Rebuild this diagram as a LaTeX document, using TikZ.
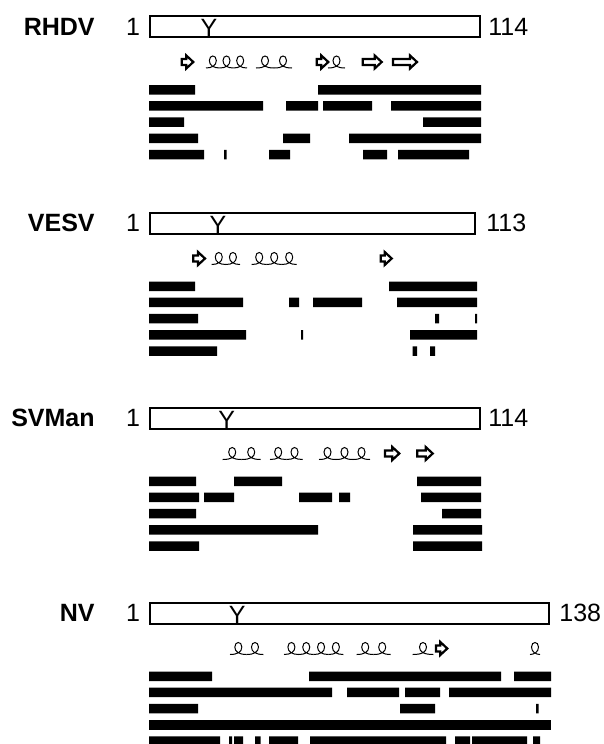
\documentclass[tikz,border=0pt]{standalone}
\usepackage{fontspec}
\setmainfont{Liberation Sans}
\usepackage{tikz}
\usetikzlibrary{positioning}
\tikzset{
  virus/.style={font=\bfseries\fontsize{12.5}{15}\selectfont, inner sep=0pt, anchor=base east},
  resnum/.style={font=\fontsize{12.5}{15}\selectfont, inner sep=0pt},
  protbox/.style={draw, line width=1pt},
  seg/.style={fill=black},
  sheet/.style={draw, fill=white, line width=1.1pt},
  helixline/.style={line width=0.5pt},
  pics/strand/.style={code={
    \draw[sheet] (0,-3) -- (#1-7,-3) -- (#1-7,-6.5) -- (#1,0) -- (#1-7,6.5) -- (#1-7,3) -- (0,3) -- cycle;
  }},
  pics/helix/.style 2 args={code={
    \pgfmathsetmacro\looppitch{#1/#2}
    \foreach \k in {1,...,#2}{
      \pgfmathsetmacro\loopx{(\k-0.5)*\looppitch}
      \draw[helixline] ({\loopx-\looppitch/2},6) .. controls ({\loopx-1},6) and ({\loopx+3.5},3.5) .. ({\loopx+3.5},-1.5)
        .. controls ({\loopx+3.5},-7.5) and ({\loopx-3.5},-7.5) .. ({\loopx-3.5},-1.5)
        .. controls ({\loopx-3.5},3.5) and ({\loopx+1},6) .. ({\loopx+\looppitch/2},6);
    }
  }},
}

\begin{document}
\begin{tikzpicture}[x=0.5pt, y=-0.5pt]

\useasboundingbox (0,0) rectangle (604,744);
\clip (0,0) rectangle (604,744);

% RHDV
\begin{scope}[shift={(0,15)}]
\draw[protbox] (150,1) rectangle (480,22);
\node[virus] (rhdv) at (95,20) {RHDV};
\node[resnum, anchor=base] (rhdv-first) at (133,20) {1};
\node[resnum, anchor=base west] (rhdv-last) at (488,20) {114};
\node[resnum, anchor=base] (rhdv-tyr) at (209,21.5) {Y};

% secondary structure
\pic at (181.7,47) {strand=11.6};
\pic at (206,47) {helix={41}{3}};
\pic at (256,47) {helix={36}{2}};
\pic at (316.7,47) {strand=11.6};
\pic at (328,47) {helix={17}{1}};
\pic at (362.7,47) {strand=19};
\pic at (393,47) {strand=24};

% segments
\fill[seg] (149,70) rectangle (195,79.5) (318,70) rectangle (481,79.5);
\fill[seg] (149,86.2) rectangle (263,95.7) (286,86.2) rectangle (318,95.7)
  (323,86.2) rectangle (372,95.7) (391,86.2) rectangle (481,95.7);
\fill[seg] (149,102.4) rectangle (184,111.9) (423,102.4) rectangle (481,111.9);
\fill[seg] (149,118.6) rectangle (198,128.1) (283,118.6) rectangle (310,128.1)
  (349,118.6) rectangle (481,128.1);
\fill[seg] (149,134.8) rectangle (204,144.3) (224,134.8) rectangle (226.5,144.3)
  (269,134.8) rectangle (290,144.3) (363,134.8) rectangle (387,144.3)
  (398,134.8) rectangle (469,144.3);
\end{scope}

% VESV
\begin{scope}[shift={(0,211.5)}]
\draw[protbox] (150,1) rectangle (475,22);
\node[virus] (vesv) at (95,20) {VESV};
\node[resnum, anchor=base] (vesv-first) at (133,20) {1};
\node[resnum, anchor=base west] (vesv-last) at (486,20) {113};
\node[resnum, anchor=base] (vesv-tyr) at (218,21.5) {Y};

% secondary structure
\pic at (193.3,47) {strand=11.7};
\pic at (211.7,47) {helix={28.3}{2}};
\pic at (251.7,47) {helix={45}{3}};
\pic at (380.7,47) {strand=11};

% segments
\fill[seg] (149,70) rectangle (195,79.5) (389,70) rectangle (477,79.5);
\fill[seg] (149,86.2) rectangle (243,95.7) (289,86.2) rectangle (299,95.7)
  (313,86.2) rectangle (362,95.7) (397,86.2) rectangle (477,95.7);
\fill[seg] (149,102.4) rectangle (198,111.9) (435,102.4) rectangle (439,111.9)
  (475,102.4) rectangle (477,111.9);
\fill[seg] (149,118.6) rectangle (246,128.1) (301,118.6) rectangle (303,128.1)
  (410,118.6) rectangle (477,128.1);
\fill[seg] (149,134.8) rectangle (217,144.3) (412.5,134.8) rectangle (417,144.3)
  (430,134.8) rectangle (435,144.3);
\end{scope}

% SVMan
\begin{scope}[shift={(0,406.5)}]
\draw[protbox] (150,1) rectangle (480,22);
\node[virus] (svman) at (95,20) {SVMan};
\node[resnum, anchor=base] (svman-first) at (133,20) {1};
\node[resnum, anchor=base west] (svman-last) at (488,20) {114};
\node[resnum, anchor=base] (svman-tyr) at (226.7,21.5) {Y};

% secondary structure
\pic at (222.7,47) {helix={38}{2}};
\pic at (270,47) {helix={32.7}{2}};
\pic at (319,47) {helix={51}{3}};
\pic at (385,47) {strand=14.3};
\pic at (417.3,47) {strand=15.4};

% segments
\fill[seg] (149,70) rectangle (196,79.5) (234,70) rectangle (282,79.5)
  (417,70) rectangle (481,79.5);
\fill[seg] (149,86.2) rectangle (199,95.7) (204,86.2) rectangle (234,95.7)
  (299,86.2) rectangle (332,95.7) (339,86.2) rectangle (350,95.7)
  (421,86.2) rectangle (481,95.7);
\fill[seg] (149,102.4) rectangle (196,111.9) (442,102.4) rectangle (481,111.9);
\fill[seg] (149,118.6) rectangle (318,128.1) (413,118.6) rectangle (482,128.1);
\fill[seg] (149,134.8) rectangle (199,144.3) (413,134.8) rectangle (482,144.3);
\end{scope}

% NV
\begin{scope}[shift={(0,601.5)}]
\draw[protbox] (150,1) rectangle (549,22);
\node[virus] (nv) at (95,20) {NV};
\node[resnum, anchor=base] (nv-first) at (133,20) {1};
\node[resnum, anchor=base west] (nv-last) at (559,20) {138};
\node[resnum, anchor=base] (nv-tyr) at (237.3,21.5) {Y};

% secondary structure
\pic at (230,47) {helix={33.3}{2}};
\pic at (284,47) {helix={59.3}{4}};
\pic at (356.7,47) {helix={34}{2}};
\pic at (412.7,47) {helix={20.6}{1}};
\pic at (436,47) {strand=11.3};
\pic at (530,47) {helix={10}{1}};

% segments
\fill[seg] (149,70) rectangle (212,79.5) (309,70) rectangle (501,79.5)
  (514,70) rectangle (551,79.5);
\fill[seg] (149,86.2) rectangle (332,95.7) (347,86.2) rectangle (399,95.7)
  (405,86.2) rectangle (440,95.7) (449,86.2) rectangle (551,95.7);
\fill[seg] (149,102.4) rectangle (198,111.9) (400,102.4) rectangle (435,111.9)
  (536,102.4) rectangle (538.5,111.9);
\fill[seg] (149,118.6) rectangle (551,128.1);
\fill[seg] (149,134.8) rectangle (220,144.3) (229,134.8) rectangle (232,144.3)
  (234,134.8) rectangle (243,144.3) (255,134.8) rectangle (260.5,144.3)
  (269,134.8) rectangle (298,144.3) (310,134.8) rectangle (446,144.3)
  (455,134.8) rectangle (470,144.3) (472,134.8) rectangle (527,144.3)
  (533,134.8) rectangle (540,144.3);
\end{scope}

\end{tikzpicture}
\end{document}
